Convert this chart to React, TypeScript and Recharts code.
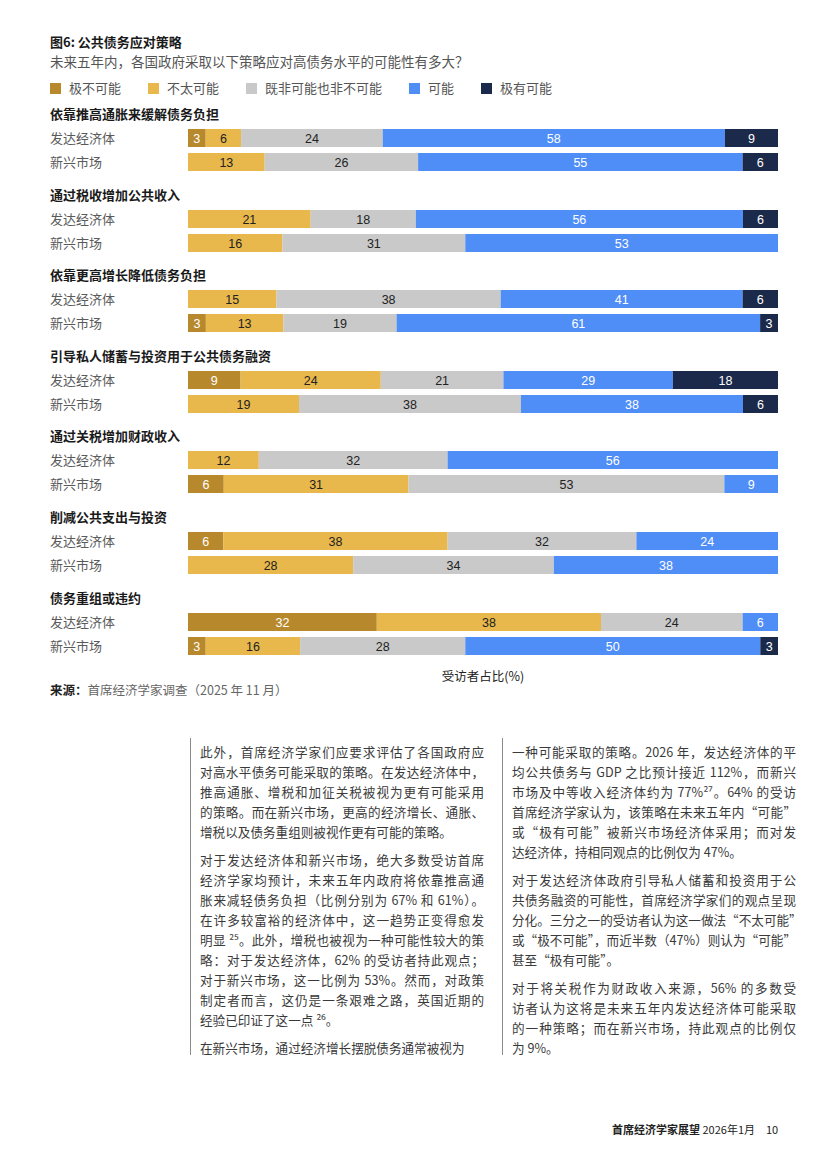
import { Bar, BarChart, LabelList, XAxis, YAxis } from 'recharts'

const economies = ['发达经济体', '新兴市场']
const strategies = [
  '依靠推高通胀来缓解债务负担',
  '通过税收增加公共收入',
  '依靠更高增长降低债务负担',
  '引导私人储蓄与投资用于公共债务融资',
  '通过关税增加财政收入',
  '削减公共支出与投资',
  '债务重组或违约',
]
const responses = ['极不可能', '不太可能', '既非可能也非不可能', '可能', '极有可能']

// each pair is [发达经济体, 新兴市场], % of respondents
const veryUnlikely = [[3, 0], [0, 0], [0, 3], [9, 0], [0, 6], [6, 0], [32, 3]]
const unlikely = [[6, 13], [21, 16], [15, 13], [24, 19], [12, 31], [38, 28], [38, 16]]
const neutral = [[24, 26], [18, 31], [38, 19], [21, 38], [32, 53], [32, 34], [24, 28]]
const likely = [[58, 55], [56, 53], [41, 61], [29, 38], [56, 9], [24, 38], [6, 50]]
const veryLikely = [[9, 6], [6, 0], [6, 3], [18, 6], [0, 0], [0, 0], [0, 3]]

const seriesValues = [veryUnlikely, unlikely, neutral, likely, veryLikely]
const colors = ['#B8892C', '#E8B84C', '#C9C9C9', '#4F8EF6', '#1B2A4A']
const labelColors = ['#fff', '#222', '#222', '#fff', '#fff']

const leftParas = [
  [
    '此外，首席经济学家们应要求评估了各国政府应',
    '对高水平债务可能采取的策略。在发达经济体中，',
    '推高通胀、增税和加征关税被视为更有可能采用',
    '的策略。而在新兴市场，更高的经济增长、通胀、',
    '增税以及债务重组则被视作更有可能的策略。',
  ],
  [
    '对于发达经济体和新兴市场，绝大多数受访首席',
    '经济学家均预计，未来五年内政府将依靠推高通',
    '胀来减轻债务负担（比例分别为 67% 和 61%）。',
    '在许多较富裕的经济体中，这一趋势正变得愈发',
    '明显 ²⁵。此外，增税也被视为一种可能性较大的策',
    '略：对于发达经济体，62% 的受访者持此观点；',
    '对于新兴市场，这一比例为 53%。然而，对政策',
    '制定者而言，这仍是一条艰难之路，英国近期的',
    '经验已印证了这一点 ²⁶。',
  ],
  ['在新兴市场，通过经济增长摆脱债务通常被视为'],
]
const rightParas = [
  [
    '一种可能采取的策略。2026 年，发达经济体的平',
    '均公共债务与 GDP 之比预计接近 112%，而新兴',
    '市场及中等收入经济体约为 77%²⁷。64% 的受访',
    '首席经济学家认为，该策略在未来五年内“可能”',
    '或“极有可能”被新兴市场经济体采用；而对发',
    '达经济体，持相同观点的比例仅为 47%。',
  ],
  [
    '对于发达经济体政府引导私人储蓄和投资用于公',
    '共债务融资的可能性，首席经济学家们的观点呈现',
    '分化。三分之一的受访者认为这一做法“不太可能”',
    '或“极不可能”，而近半数（47%）则认为“可能”',
    '甚至“极有可能”。',
  ],
  [
    '对于将关税作为财政收入来源，56% 的多数受',
    '访者认为这将是未来五年内发达经济体可能采取',
    '的一种策略；而在新兴市场，持此观点的比例仅',
    '为 9%。',
  ],
]

const CJK = '"Noto Sans CJK SC", "Noto Sans", sans-serif'
const NUM = '"Liberation Sans", Arial, "Noto Sans CJK SC", sans-serif'

function rowsFor(i: number) {
  return economies.map((name, j) => {
    const row: Record<string, string | number> = { name }
    seriesValues.forEach((s, k) => {
      row[`r${k}`] = s[i][j]
    })
    return row
  })
}

function makeLabel(k: number) {
  return (p: any) => {
    const v = Number(p.value)
    if (!v) return null
    return (
      <text
        x={Number(p.x) + Number(p.width) / 2}
        y={Number(p.y) + Number(p.height) / 2}
        dy={4.5}
        textAnchor="middle"
        fill={labelColors[k]}
        fontSize={12.5}
        fontFamily={NUM}
      >
        {v}
      </text>
    )
  }
}

function EconomyTick(p: any) {
  return (
    <text x={50} y={p.y} dy={4.5} textAnchor="start" fill="#5a5a5a" fontSize={13} fontFamily={CJK}>
      {p.payload.value}
    </text>
  )
}

function StrategyGroup({ i }: { i: number }) {
  const top = 103 + i * 80.6
  return (
    <div style={{ position: 'absolute', left: 0, top, width: 826 }}>
      <div
        style={{
          position: 'absolute',
          left: 50,
          top: 0,
          height: 22,
          lineHeight: '22px',
          fontSize: 13,
          fontWeight: 700,
          color: '#1a1a1a',
        }}
      >
        {strategies[i]}
      </div>
      <div style={{ position: 'absolute', left: 0, top: 23 }}>
        <BarChart
          width={778}
          height={48}
          data={rowsFor(i)}
          layout="vertical"
          stackOffset="expand"
          margin={{ top: 0, right: 0, bottom: 0, left: 0 }}
          barSize={18}
        >
          <XAxis type="number" hide />
          <YAxis
            type="category"
            dataKey="name"
            width={188}
            axisLine={false}
            tickLine={false}
            tick={EconomyTick}
            interval={0}
          />
          {responses.map((r, k) => (
            <Bar key={r} dataKey={`r${k}`} name={r} stackId="a" fill={colors[k]} isAnimationActive={false}>
              <LabelList dataKey={`r${k}`} content={makeLabel(k)} />
            </Bar>
          ))}
        </BarChart>
      </div>
    </div>
  )
}

function Column({ paras, left }: { paras: string[][]; left: number }) {
  return (
    <>
      <div style={{ position: 'absolute', left: left - 10, top: 738, width: 1, height: 317, background: '#8a8a8a' }} />
      <div style={{ position: 'absolute', left, top: 742, width: 284, fontSize: 12.6, color: '#3a3a3a' }}>
        {paras.map((lines, pi) => (
          <div key={pi} style={{ marginBottom: 8 }}>
            {lines.map((ln, li) => {
              const last = li === lines.length - 1
              return (
                <div
                  key={li}
                  style={{
                    height: 20,
                    lineHeight: '20px',
                    whiteSpace: last ? 'nowrap' : 'normal',
                    textAlign: last ? 'left' : 'justify',
                    textAlignLast: last ? 'left' : 'justify',
                  }}
                >
                  {ln}
                </div>
              )
            })}
          </div>
        ))}
      </div>
    </>
  )
}

export default function App() {
  return (
    <div style={{ position: 'relative', width: 826, height: 1169, background: '#fff', fontFamily: CJK, overflow: 'hidden' }}>
      <style>{'body{margin:0}'}</style>
      <div style={{ position: 'absolute', left: 50, top: 34, fontSize: 13, fontWeight: 700, color: '#1a1a1a', lineHeight: '16px' }}>
        图6: 公共债务应对策略
      </div>
      <div style={{ position: 'absolute', left: 50, top: 53, fontSize: 13.5, color: '#555', lineHeight: '16px' }}>
        未来五年内，各国政府采取以下策略应对高债务水平的可能性有多大？
      </div>

      <div style={{ position: 'absolute', left: 50, top: 79, display: 'flex', alignItems: 'center', fontSize: 13, color: '#555', lineHeight: '18px' }}>
        {responses.map((r, k) => (
          <div key={r} style={{ display: 'flex', alignItems: 'center', marginRight: 27 }}>
            <span style={{ width: 11, height: 11, background: colors[k], display: 'inline-block', marginRight: 8 }} />
            {r}
          </div>
        ))}
      </div>

      {strategies.map((_, i) => (
        <StrategyGroup key={i} i={i} />
      ))}

      <div style={{ position: 'absolute', left: 383, width: 200, textAlign: 'center', top: 667, fontSize: 12.5, color: '#222', lineHeight: '18px' }}>
        受访者占比(%)
      </div>
      <div style={{ position: 'absolute', left: 50, top: 681, fontSize: 12.5, color: '#666', lineHeight: '18px' }}>
        <span style={{ fontWeight: 700, color: '#222' }}>来源：</span>首席经济学家调查（2025 年 11 月）
      </div>

      <Column paras={leftParas} left={200} />
      <Column paras={rightParas} left={512} />

      <div style={{ position: 'absolute', left: 612, top: 1121, fontSize: 11, color: '#222', lineHeight: '16px', whiteSpace: 'nowrap' }}>
        <span style={{ fontWeight: 700 }}>首席经济学家展望</span> 2026年1月
      </div>
      <div style={{ position: 'absolute', left: 766, top: 1121, fontSize: 11, color: '#222', lineHeight: '16px' }}>10</div>
    </div>
  )
}
